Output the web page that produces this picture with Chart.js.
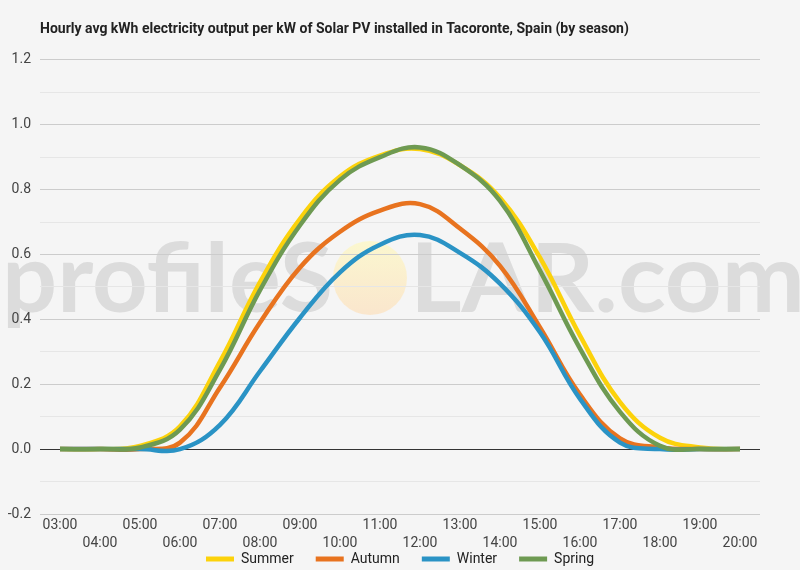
<!DOCTYPE html>
<html>
<head>
<meta charset="utf-8">
<script src="https://cdn.jsdelivr.net/npm/chart.js@4.4.1/dist/chart.umd.min.js"></script>
<style>
  html, body { margin: 0; padding: 0; background: #f5f5f5; }
  #wrap { width: 800px; height: 570px; }
</style>
</head>
<body>
<div id="wrap"><canvas id="chart"></canvas></div>
<script>
const hours = ['03:00', '04:00', '05:00', '06:00', '07:00', '08:00', '09:00', '10:00', '11:00',
               '12:00', '13:00', '14:00', '15:00', '16:00', '17:00', '18:00', '19:00', '20:00'];
const summer = [0, 0, 0.01, 0.07, 0.27, 0.515, 0.71, 0.84, 0.905, 0.925, 0.875, 0.775, 0.59, 0.35, 0.145, 0.035, 0.005, 0];
const autumn = [0, 0, 0, 0.02, 0.19, 0.39, 0.56, 0.67, 0.735, 0.755, 0.68, 0.565, 0.375, 0.168, 0.033, 0.005, 0, 0];
const winter = [0, 0, 0, 0, 0.075, 0.24, 0.405, 0.545, 0.63, 0.66, 0.605, 0.51, 0.36, 0.155, 0.02, 0, 0, 0];
const spring = [0, 0, 0.005, 0.06, 0.245, 0.49, 0.69, 0.83, 0.9, 0.93, 0.875, 0.765, 0.55, 0.31, 0.115, 0.01, 0, 0];

const titleText = 'Hourly avg kWh electricity output per kW of Solar PV installed in Tacoronte, Spain (by season)';

// watermark behind the grid
const watermark = {
  id: 'watermark',
  beforeDraw(chart) {
    const ctx = chart.ctx;
    ctx.save();
    ctx.fillStyle = '#dcdcdc';
    ctx.font = 'bold 96px Lato';
    ctx.textBaseline = 'alphabetic';
    let w = ctx.measureText('profileS').width;
    ctx.save();
    ctx.translate(2, 312);
    ctx.scale(331 / w, 1);
    ctx.fillText('profileS', 0, 0);
    ctx.restore();
    w = ctx.measureText('LAR.com').width;
    ctx.save();
    ctx.translate(410, 312);
    ctx.scale(395 / w, 1);
    ctx.fillText('LAR.com', 0, 0);
    ctx.restore();
    const g = ctx.createLinearGradient(0, 241, 0, 315);
    g.addColorStop(0, '#fbf7cf');
    g.addColorStop(1, '#fae6cd');
    ctx.fillStyle = g;
    ctx.beginPath();
    ctx.arc(370, 278, 37, 0, Math.PI * 2);
    ctx.fill();
    ctx.restore();
  }
};

// x axis is squeezed so the legend sits close; let its two label rows draw past it
const unclipX = {
  id: 'unclipX',
  afterLayout(chart) {
    chart.scales.x.bottom = chart.height;
  }
};

// later series drawn on top, like the original
function line(label, data, color, order) {
  return {
    label: label,
    data: data,
    borderColor: color,
    backgroundColor: color,
    borderWidth: 4.5,
    pointRadius: 0,
    tension: 0.4,
    fill: false,
    order: order
  };
}

new Chart(document.getElementById('chart'), {
  type: 'line',
  data: {
    labels: hours,
    datasets: [
      line('Summer', summer, '#fcd20b', 4),
      line('Autumn', autumn, '#e8731f', 3),
      line('Winter', winter, '#2a93c5', 2),
      line('Spring', spring, '#6e9a52', 1)
    ]
  },
  plugins: [watermark, unclipX],
  options: {
    responsive: true,
    maintainAspectRatio: false,
    animation: false,
    layout: { padding: { left: 0, right: 40, top: 0, bottom: -6 } },
    plugins: {
      title: {
        display: true,
        text: titleText,
        align: 'start',
        fullSize: false,
        color: '#222',
        font: { family: 'Roboto', size: 14, weight: 'bold' },
        padding: { top: 21, bottom: 22 }
      },
      legend: {
        position: 'bottom',
        fullSize: false,
        labels: {
          color: '#222',
          font: { family: 'Roboto', size: 14 },
          boxWidth: 28,
          boxHeight: 5,
          padding: 22,
          sort: function (a, b) { return a.datasetIndex - b.datasetIndex; },
          generateLabels(chart) {
            return Chart.defaults.plugins.legend.labels.generateLabels(chart).map(function (l) {
              l.lineWidth = 0;
              l.fillStyle = l.strokeStyle;
              return l;
            });
          }
        }
      },
      tooltip: { enabled: false }
    },
    scales: {
      x: {
        offset: true,
        afterFit: function (scale) { scale.height = 16; },
        grid: { display: false, drawTicks: false },
        border: { display: false },
        ticks: {
          color: '#444',
          font: { family: 'Roboto', size: 14, lineHeight: 1.3 },
          autoSkip: false,
          maxRotation: 0,
          padding: 2,
          callback: function (v, i) {
            return i % 2 ? ['', hours[i]] : hours[i];
          }
        }
      },
      y: {
        min: -0.2,
        max: 1.2,
        afterFit: function (scale) { scale.width = 40; },
        border: { display: false },
        grid: {
          drawTicks: false,
          color: function (c) {
            if (Math.abs(c.tick.value) < 1e-6) return '#333';
            return c.index % 2 === 0 ? '#cccccc' : '#e6e6e6';
          }
        },
        ticks: {
          stepSize: 0.1,
          padding: 9,
          color: '#444',
          font: { family: 'Roboto', size: 14 },
          callback: function (v, i) {
            if (i % 2) return '';
            return Math.abs(v) < 1e-6 ? '0.0' : Number(v).toFixed(1);
          }
        }
      }
    }
  }
});
</script>
</body>
</html>
